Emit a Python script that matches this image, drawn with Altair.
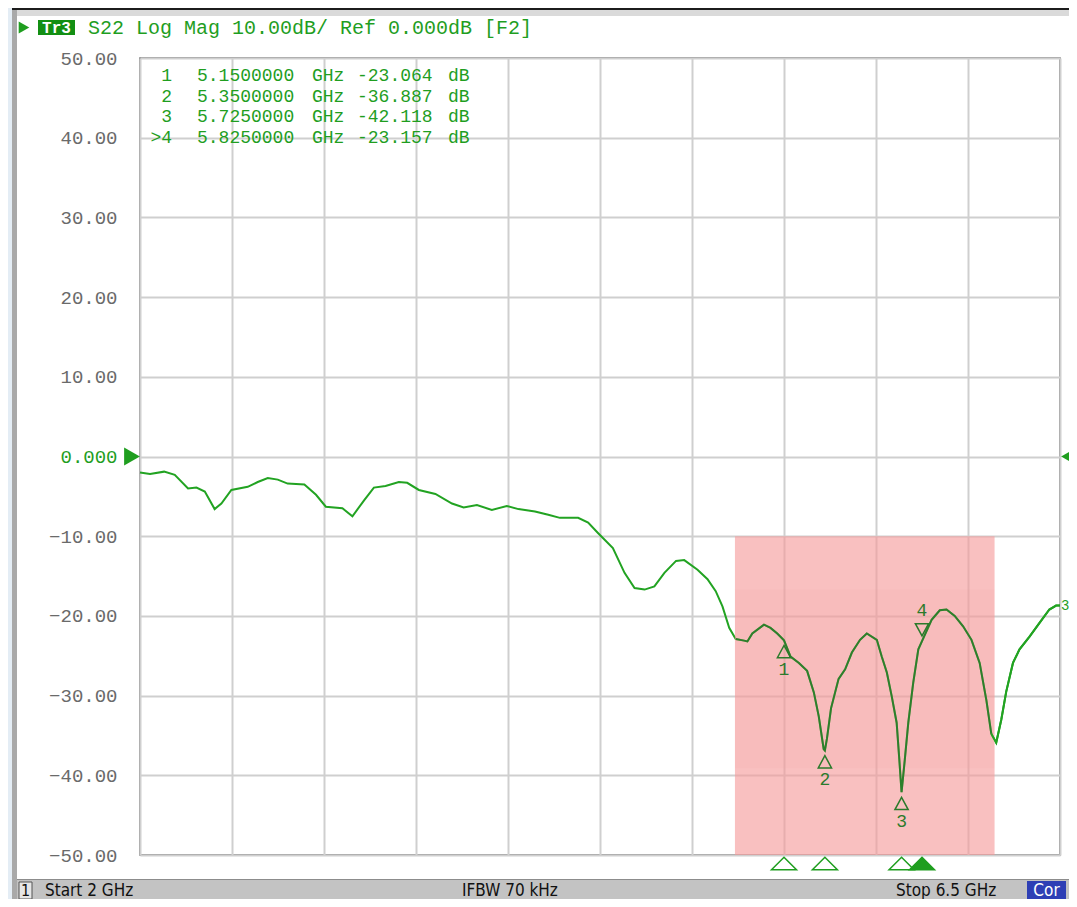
import altair as alt
import pandas as pd

# ---------------- data ----------------
freq_ghz = [2.000, 2.049, 2.118, 2.170, 2.235, 2.276, 2.317, 2.365, 2.398, 2.447,
            2.527, 2.576, 2.625, 2.674, 2.722, 2.804, 2.861, 2.909, 2.990, 3.039,
            3.096, 3.144, 3.201, 3.266, 3.307, 3.364, 3.445, 3.526, 3.583, 3.648,
            3.721, 3.794, 3.851, 3.932, 3.997, 4.054, 4.143, 4.192, 4.240, 4.313,
            4.370, 4.419, 4.468, 4.516, 4.565, 4.622, 4.662, 4.727, 4.776, 4.816,
            4.849, 4.882, 4.914, 4.955, 4.971, 4.995, 5.052, 5.084, 5.117, 5.150,
            5.182, 5.223, 5.263, 5.296, 5.320, 5.344, 5.350, 5.360, 5.380, 5.417,
            5.449, 5.482, 5.522, 5.555, 5.604, 5.628, 5.653, 5.677, 5.701, 5.714,
            5.725, 5.741, 5.758, 5.782, 5.807, 5.825, 5.872, 5.912, 5.945, 5.985,
            6.026, 6.067, 6.107, 6.140, 6.164, 6.188, 6.213, 6.237, 6.270, 6.302,
            6.351, 6.399, 6.448, 6.481, 6.500]
s22_db = [-2.0, -2.2, -1.9, -2.3, -4.0, -3.9, -4.4, -6.6, -5.9, -4.2,
          -3.8, -3.2, -2.7, -2.9, -3.4, -3.5, -4.8, -6.3, -6.5, -7.5,
          -5.5, -3.9, -3.7, -3.2, -3.3, -4.2, -4.7, -5.9, -6.4, -6.1,
          -6.7, -6.2, -6.6, -6.9, -7.3, -7.7, -7.7, -8.3, -9.6, -11.5,
          -14.6, -16.5, -16.7, -16.3, -14.6, -13.1, -13.0, -14.2, -15.4, -16.9,
          -18.8, -21.5, -22.9, -23.1, -23.2, -22.2, -21.1, -21.5, -22.2, -23.06,
          -25.1, -25.9, -26.9, -29.6, -32.6, -36.7, -36.89, -35.4, -31.6, -27.9,
          -26.7, -24.6, -23.0, -22.2, -23.0, -25.1, -27.1, -30.1, -33.4, -38.0,
          -42.12, -38.0, -33.4, -28.4, -24.2, -23.16, -20.5, -19.3, -19.2, -20.0,
          -21.3, -23.0, -25.9, -30.6, -34.8, -35.9, -33.0, -29.5, -25.9, -24.2,
          -22.6, -20.9, -19.2, -18.7, -18.7]

marker_num = ["1", "2", "3", "4"]
marker_freq = [5.15, 5.35, 5.725, 5.825]
marker_db = [-23.064, -36.887, -42.118, -23.157]
active_marker = "4"

mask_freq = [4.91, 6.18]        # shaded limit region
mask_db = [-50.0, -10.0]
mask_core_db = [-39.1, -16.7]   # slightly denser band inside it

x_grid = [2.0, 2.45, 2.9, 3.35, 3.8, 4.25, 4.7, 5.15, 5.6, 6.05, 6.5]
y_ticks = [-50, -40, -30, -20, -10, 0, 10, 20, 30, 40, 50]

header_text = "S22 Log Mag 10.00dB/ Ref 0.000dB [F2]"
status_texts = ["Start 2 GHz", "IFBW 70 kHz", "Stop 6.5 GHz"]

# ---------------- styling / layout ----------------
W, H = 920, 797
PX, PY = 140, 58          # page position of the plot area's top-left
GREEN = "#1f9e1f"
DGREEN = "#2b7a2b"
MONO = "Liberation Mono, DejaVu Sans Mono, monospace"
NARROW = "Liberation Sans Narrow, DejaVu Sans Condensed, Liberation Sans, sans-serif"

def cx(x):
    return x - PX

def cy(y):
    return y - PY

one = pd.DataFrame({"k": [0]})

def rect(x1, y1, x2, y2, fill, **kw):
    return alt.Chart(one).mark_rect(fill=fill, **kw).encode(
        x=alt.value(cx(x1)), x2=alt.value(cx(x2)),
        y=alt.value(cy(y1)), y2=alt.value(cy(y2)))

def label(txt, x, y, **kw):
    return alt.Chart(one).mark_text(text=txt, baseline="middle", **kw).encode(
        x=alt.value(cx(x)), y=alt.value(cy(y)))

trace = pd.DataFrame({"freq": freq_ghz, "db": s22_db})
mk = pd.DataFrame({"num": marker_num, "freq": marker_freq, "db": marker_db})
mk["up"] = mk["num"] != active_marker
mk["shape"] = mk["up"].map({True: "M0,0.42L0.54,1.42L-0.54,1.42Z",
                             False: "M0,-0.42L0.54,-1.42L-0.54,-1.42Z"})
mk["row"] = range(len(mk))
mk["lbl"] = [(">" if n == active_marker else "") + n for n in marker_num]
mk["ftxt"] = [f"{f:.7f}" for f in marker_freq]
mk["funit"] = "GHz"
mk["vtxt"] = [f"{v:.3f}" for v in marker_db]
mk["vunit"] = "dB"

xs = alt.Scale(domain=[2, 6.5], nice=False, zero=False)
ys = alt.Scale(domain=[-50, 50], nice=False, zero=False)

x_axis = alt.Axis(values=x_grid, labels=False, ticks=False, domain=False, title=None,
                  grid=True, gridColor="#cfcfcf", gridWidth=2)
y_axis = alt.Axis(values=y_ticks, ticks=False, domain=False, title=None,
                  grid=True, gridColor="#cfcfcf", gridWidth=2,
                  labelExpr="datum.value == 0 ? '0.000' : format(datum.value, '.2f')",
                  labelColor=alt.expr(f"datum.value == 0 ? '{GREEN}' : '#6a6a6a'"),
                  labelFont=MONO, labelFontSize=19, labelPadding=23, labelFlush=False)

def X(field):
    return alt.X(field, scale=xs, axis=x_axis)

def Y(field):
    return alt.Y(field, scale=ys, axis=y_axis)

# ---------------- window chrome ----------------
chrome = [
    rect(0, 0, 12, 907, "#e4edf5"),
    rect(0, 0, 1077, 6, "#eef3f8"),
    rect(12, 6, 17, 907, "#a9a9a9"),
    rect(12, 6, 1077, 10, "#1c1c1c"),
    rect(17, 10, 1077, 16, "#dadada"),
    rect(17, 879, 1077, 907, "#c3c3c3"),
    rect(17, 879, 1077, 880, "#8c8c8c"),
    rect(19, 882, 32, 899, "#e6e6e6", stroke="#555555", strokeWidth=1),
    rect(1027, 881, 1066, 899, "#2e3fb5"),
    label("1", 25.5, 891, align="center", font=NARROW, fontSize=16, color="#111111"),
    label(status_texts[0], 45, 891, align="left", font=NARROW, fontSize=17, color="#111111"),
    label(status_texts[1], 462, 891, align="left", font=NARROW, fontSize=17, color="#111111"),
    label(status_texts[2], 896, 891, align="left", font=NARROW, fontSize=17, color="#111111"),
    label("Cor", 1046.5, 891, align="center", font=NARROW, fontSize=17, color="#ffffff"),
    # header
    alt.Chart(one).mark_point(shape="triangle-right", filled=True, color=GREEN, size=150,
                              opacity=1).encode(x=alt.value(cx(24)), y=alt.value(cy(27.5))),
    rect(38, 20, 75, 35, "#138f13"),
    label("Tr3", 56.5, 27.5, align="center", font=MONO, fontSize=16, fontWeight="bold",
          color="#ffffff"),
    label(header_text, 88, 28, align="left", font=MONO, fontSize=20, color=GREEN),
]

# ---------------- data layers ----------------
base_line = alt.Chart(trace).mark_line(color="#22a322", strokeWidth=2).encode(
    x=X("freq:Q"), y=Y("db:Q"))

mask = alt.Chart(pd.DataFrame({"f0": [mask_freq[0]], "f1": [mask_freq[1]],
                               "d0": [mask_db[0]], "d1": [mask_db[1]]})).mark_rect(
    fill="#f59a9a", opacity=0.62).encode(x=X("f0:Q"), x2="f1:Q", y=Y("d0:Q"), y2="d1:Q")

mask_core = alt.Chart(pd.DataFrame({"f0": [mask_freq[0]], "f1": [mask_freq[1]],
                                    "d0": [mask_core_db[0]], "d1": [mask_core_db[1]]})).mark_rect(
    fill="#f59a9a", opacity=0.10).encode(x=X("f0:Q"), x2="f1:Q", y=Y("d0:Q"), y2="d1:Q")

inner_line = alt.Chart(trace).transform_filter(
    f"datum.freq >= {mask_freq[0]} && datum.freq <= {mask_freq[1]}"
).mark_line(color="#2c802c", strokeWidth=2).encode(x=X("freq:Q"), y=Y("db:Q"))

outer_right = alt.Chart(trace).transform_filter(
    f"datum.freq >= {mask_freq[1] - 0.02}"
).mark_line(color="#22a322", strokeWidth=2).encode(x=X("freq:Q"), y=Y("db:Q"))

marks_tri = alt.Chart(mk).mark_point(filled=False, stroke=DGREEN, strokeWidth=1.5,
                                     size=600, opacity=1).encode(
    x=X("freq:Q"), y=Y("db:Q"),
    shape=alt.Shape("shape:N", scale=None, legend=None))

marks_lbl_up = alt.Chart(mk).transform_filter("datum.up").mark_text(
    font=MONO, fontSize=18, color=DGREEN, dy=30, baseline="middle").encode(
    x=X("freq:Q"), y=Y("db:Q"), text="num:N")

marks_lbl_dn = alt.Chart(mk).transform_filter("!datum.up").mark_text(
    font=MONO, fontSize=18, color=DGREEN, dy=-30, baseline="middle").encode(
    x=X("freq:Q"), y=Y("db:Q"), text="num:N")

bottom_tri = alt.Chart(mk).mark_point(filled=True, stroke=GREEN, strokeWidth=1.5,
                                      size=625, opacity=1).encode(
    x=X("freq:Q"), y=alt.value(H + 8.5),
    shape=alt.value("M0,-0.5L1,0.5L-1,0.5Z"),
    fill=alt.condition(f"datum.num == '{active_marker}'", alt.value(GREEN),
                       alt.value("#ffffff")))

# marker table: one text layer per column
table_cols = [("lbl", 172, "right"), ("ftxt", 197, "left"), ("funit", 312, "left"),
              ("vtxt", 357, "left"), ("vunit", 448, "left")]
table_layers = [
    alt.Chart(mk).transform_calculate(
        ypix=f"{cy(76)} + datum.row * 20.5").mark_text(
        font=MONO, fontSize=18, color=GREEN, align=al, baseline="middle").encode(
        x=alt.value(cx(xp)), y=alt.Y("ypix:Q", scale=None), text=f"{col}:N")
    for col, xp, al in table_cols
]

ref_pos = pd.DataFrame({"db": [0.0]})
ref_left = alt.Chart(ref_pos).mark_point(shape="triangle-right", filled=True, color=GREEN,
                                         size=330, opacity=1).encode(
    x=alt.value(-8), y=Y("db:Q"))
ref_right = alt.Chart(ref_pos).mark_point(shape="triangle-left", filled=True, color=GREEN,
                                          size=330, opacity=1).encode(
    x=alt.value(W + 9), y=Y("db:Q"))

trace_end = alt.Chart(trace.tail(1)).mark_text(
    text="3", font=MONO, fontSize=14, color=GREEN, align="left", dx=1,
    baseline="middle").encode(x=X("freq:Q"), y=Y("db:Q"))

chart = alt.layer(
    base_line, *chrome, mask, mask_core, inner_line, outer_right, marks_tri,
    marks_lbl_up, marks_lbl_dn, bottom_tri, *table_layers,
    ref_left, ref_right, trace_end
).properties(
    width=W, height=H,
    autosize=alt.AutoSizeParams(type="none"),
    padding={"left": 132, "top": 50, "right": 9, "bottom": 44},
    background="#ffffff",
).configure_view(stroke="#6e6e6e", strokeWidth=1.5)

chart.save("out.html", embed_options={"renderer": "svg", "actions": False})
